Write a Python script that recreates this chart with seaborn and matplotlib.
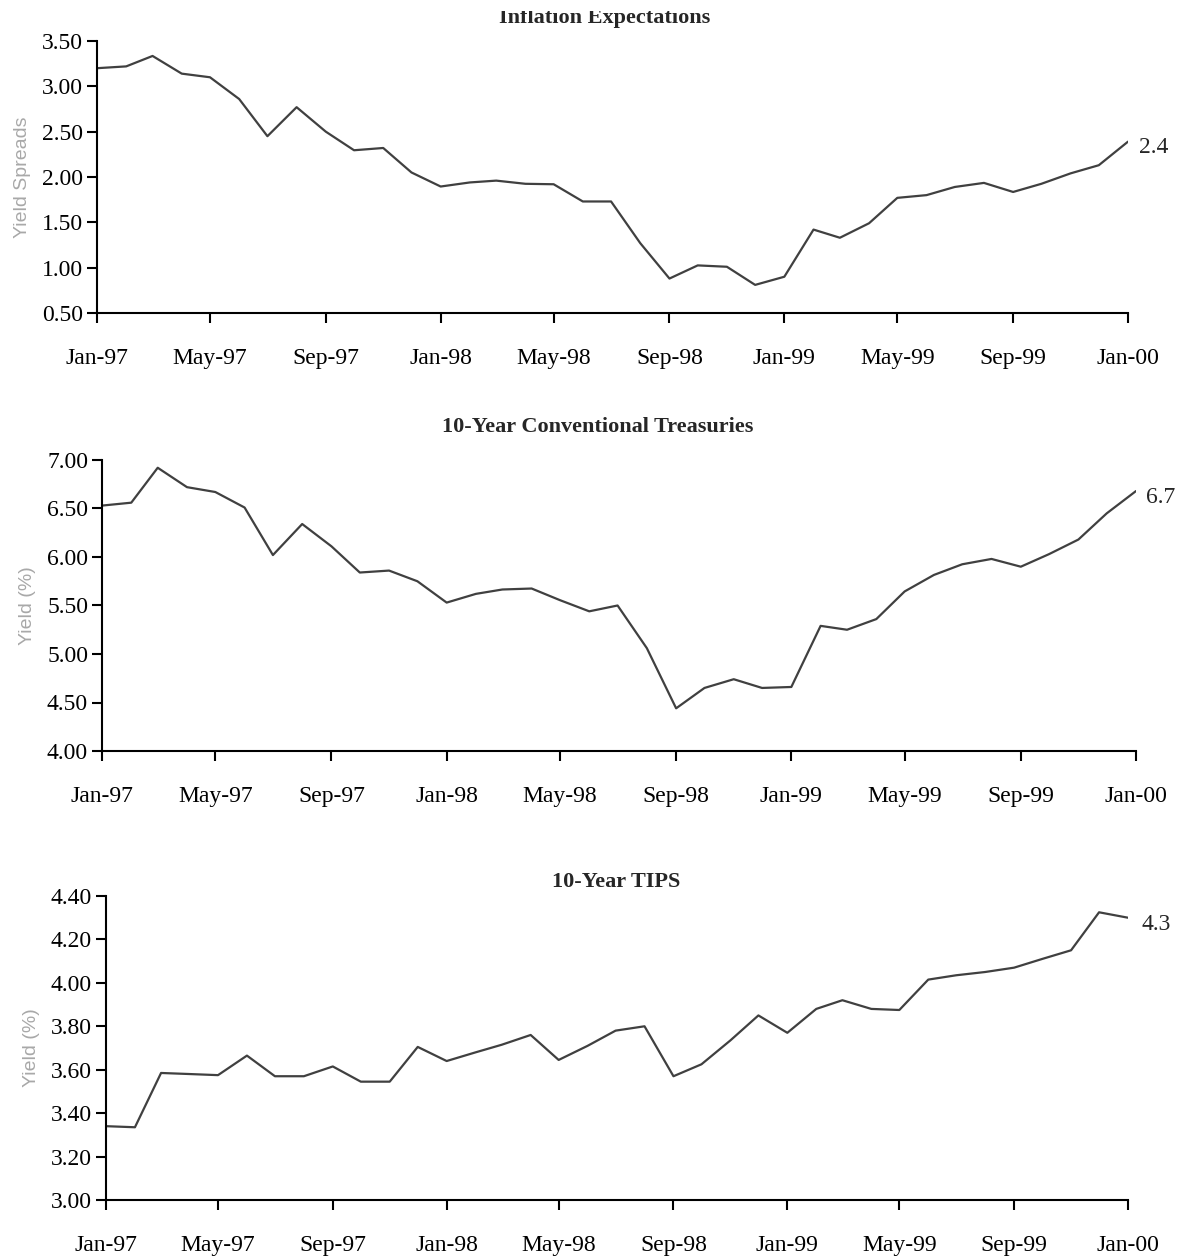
import seaborn as sns
import matplotlib.pyplot as plt
import matplotlib.dates as mdates
from matplotlib.transforms import Bbox, TransformedBbox
import pandas as pd

# monthly data, Jan-97 .. Jan-00
months = pd.date_range('1997-01-01', '2000-01-01', freq='MS')

spread = [3.20, 3.22, 3.335, 3.14, 3.10, 2.86, 2.45, 2.77, 2.50, 2.295, 2.32, 2.05,
          1.895, 1.94, 1.96, 1.925, 1.92, 1.73, 1.73, 1.27, 0.88, 1.025, 1.01, 0.81,
          0.90, 1.42, 1.33, 1.49, 1.77, 1.80, 1.89, 1.935, 1.835, 1.925, 2.04, 2.13,
          2.39]
treasury = [6.53, 6.56, 6.92, 6.72, 6.67, 6.51, 6.02, 6.34, 6.11, 5.84, 5.86, 5.75,
            5.53, 5.62, 5.665, 5.675, 5.555, 5.44, 5.50, 5.06, 4.44, 4.65, 4.74, 4.65,
            4.66, 5.29, 5.25, 5.36, 5.645, 5.815, 5.925, 5.98, 5.90, 6.03, 6.18, 6.45,
            6.68]
tips = [3.34, 3.335, 3.585, 3.58, 3.575, 3.665, 3.57, 3.57, 3.615, 3.545, 3.545, 3.705,
        3.64, 3.68, 3.715, 3.76, 3.645, 3.71, 3.78, 3.80, 3.57, 3.625, 3.735, 3.85,
        3.77, 3.88, 3.92, 3.88, 3.875, 4.015, 4.035, 4.05, 4.07, 4.11, 4.15, 4.325,
        4.30]

titles = ['Inflation Expectations', '10-Year Conventional Treasuries', '10-Year TIPS']
ylabels = ['Yield Spreads', 'Yield (%)', 'Yield (%)']
end_labels = ['2.4', '6.7', '4.3']

df = pd.DataFrame({'month': months, 'spread': spread, 'treasury': treasury, 'tips': tips})

sns.set_style('ticks')
plt.rcParams['font.family'] = ['Liberation Serif', 'DejaVu Serif']

W, H = 1187, 1256
fig = plt.figure(figsize=(W / 100, H / 100), dpi=100)

# axes boxes in pixels: left, right, top, bottom
boxes = [(97, 1128, 41, 313), (102, 1136, 460, 751), (106, 1128, 896, 1200)]
ylims = [(0.5, 3.5), (4.0, 7.0), (3.0, 4.4)]
ysteps = [0.5, 0.5, 0.2]
title_y = [23, 427, 882]
title_x = [605, 598, 616]
cols = ['spread', 'treasury', 'tips']
offsets = [(8, -4), (7, -5), (10, -5)]

for i in range(3):
    l, r, t, b = boxes[i]
    ax = fig.add_axes([l / W, 1 - b / H, (r - l) / W, (b - t) / H])
    sns.lineplot(data=df, x='month', y=cols[i], ax=ax, color='#404040', linewidth=1.6)
    ax.set_xlim(months[0], months[-1])
    lo, hi = ylims[i]
    ax.set_ylim(lo, hi)
    n = int(round((hi - lo) / ysteps[i]))
    ax.set_yticks([lo + k * ysteps[i] for k in range(n + 1)])
    ax.yaxis.set_major_formatter(plt.FormatStrFormatter('%.2f'))
    ax.set_xticks(months[::4])
    ax.xaxis.set_major_formatter(mdates.DateFormatter('%b-%y'))
    ax.tick_params(axis='both', direction='out', length=7, width=1.5, color='black',
                   labelsize=17, labelcolor='black')
    ax.tick_params(axis='x', pad=18)
    ax.tick_params(axis='y', pad=3)
    for s in ['top', 'right']:
        ax.spines[s].set_visible(False)
    for s in ['left', 'bottom']:
        ax.spines[s].set_linewidth(1.5)
        ax.spines[s].set_color('black')
    ax.set_xlabel('')
    ax.set_ylabel(ylabels[i], family=['Liberation Sans', 'DejaVu Sans'], fontsize=14,
                  color='#a8a8a8', labelpad=8)
    ax.annotate(end_labels[i], xy=(months[-1], df[cols[i]].iloc[-1]), xytext=offsets[i],
                textcoords='offset points', va='center', ha='left', fontsize=17,
                annotation_clip=False)
    if i == 0:
        # top title is cut off in the source image
        txt = fig.text(title_x[i] / W, 1 - title_y[i] / H, titles[i], ha='center',
                       va='baseline', fontsize=16, fontweight='bold')
        txt.set_clip_box(TransformedBbox(Bbox([[0, 0], [1, 1 - 11 / H]]), fig.transFigure))
        txt.set_clip_on(True)
    else:
        fig.text(title_x[i] / W, 1 - title_y[i] / H, titles[i], ha='center', va='center',
                 fontsize=16, fontweight='bold')

fig.savefig('out.png', dpi=100)
